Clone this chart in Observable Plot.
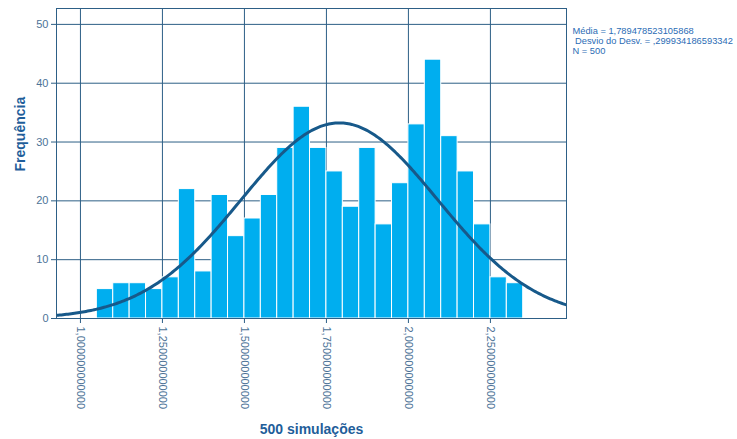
<!DOCTYPE html>
<html><head><meta charset="utf-8">
<script src="https://cdn.jsdelivr.net/npm/d3@7"></script>
<script src="https://cdn.jsdelivr.net/npm/@observablehq/plot@0.6"></script>
<style>
html,body{margin:0;padding:0;background:#fff;}
#chart{width:737px;height:439px;overflow:hidden;}
</style>
</head><body><div id="chart"></div>
<script>
// Histogram bins (lower edge) and counts
const binLower = [1.05,1.10,1.15,1.20,1.25,1.30,1.35,1.40,1.45,1.50,1.55,1.60,1.65,1.70,1.75,1.80,1.85,1.90,1.95,2.00,2.05,2.10,2.15,2.20,2.25,2.30];
const counts   = [5,6,6,5,7,22,8,21,14,17,21,29,36,29,25,19,29,16,23,33,44,31,25,16,7,6];
const binWidth = 0.05;
// Statistics stated in the legend
const mean = 1.789478523105868;
const sd = 0.299934186593342;
const n = 500;
const statsLines = ["Média = 1,789478523105868", " Desvio do Desv. = ,299934186593342", "N = 500"];
const xTicks = [1.0, 1.25, 1.5, 1.75, 2.0, 2.25];
const yTicks = [0, 10, 20, 30, 40, 50];
const xLabel = "500 simulações";
const yLabel = "Frequência";

const xDomain = [0.927, 2.482];
const yDomain = [0, 52.7];

const bins = binLower.map((x0, i) => ({x1: x0, x2: x0 + binWidth, y: counts[i]}));
// fitted normal curve (SPSS style) from the stated mean / sd / N
const curve = d3.range(xDomain[0], xDomain[1] + 0.001, 0.005).map(x => ({
  x, y: n * binWidth * Math.exp(-0.5 * ((x - mean) / sd) ** 2) / (sd * Math.sqrt(2 * Math.PI))
}));

const gridColor = "#2d5f86";
const chart = Plot.plot({
  width: 737, height: 439,
  marginLeft: 56, marginRight: 171, marginTop: 8, marginBottom: 121,
  style: {fontFamily: "Arial, 'Liberation Sans', sans-serif", background: "#fff"},
  x: {domain: xDomain, ticks: xTicks, label: null},
  y: {domain: yDomain, ticks: yTicks, label: null},
  marks: [
    Plot.gridX(xTicks, {stroke: gridColor, strokeOpacity: 1, strokeWidth: 1}),
    Plot.gridY(yTicks, {stroke: gridColor, strokeOpacity: 1, strokeWidth: 1}),
    Plot.rectY(bins, {x1: "x1", x2: "x2", y: "y", fill: "#00aeef", stroke: "#ffffff", strokeWidth: 1, inset: 0}),
    Plot.line(curve, {x: "x", y: "y", stroke: "#17598a", strokeWidth: 3, clip: true}),
    Plot.frame({stroke: gridColor}),
    Plot.axisX(xTicks, {tickFormat: d => d.toFixed(12).replace(".", ","), tickRotate: 90, tickSize: 5,
      stroke: gridColor, fill: "#4d7397", fontSize: 11, label: null, tickPadding: 3}),
    Plot.axisY(yTicks, {tickSize: 5, stroke: gridColor, fill: "#4d7397", fontSize: 11, label: null, tickPadding: 3}),
    Plot.text([statsLines.join("\n")], {frameAnchor: "top-right", dx: 6, dy: 18, textAnchor: "start", lineAnchor: "top",
      fill: "#2b6cb5", fontSize: 9.3, lineHeight: 1.1}),
    Plot.text([xLabel], {frameAnchor: "bottom", dy: 115, fill: "#1f5e9a", fontSize: 14, fontWeight: "bold"}),
    Plot.text([yLabel], {frameAnchor: "left", dx: -36, dy: 8, rotate: -90, fill: "#1f5e9a", fontSize: 14, fontWeight: "bold"})
  ]
});
document.getElementById("chart").appendChild(chart);
</script>
</body></html>
